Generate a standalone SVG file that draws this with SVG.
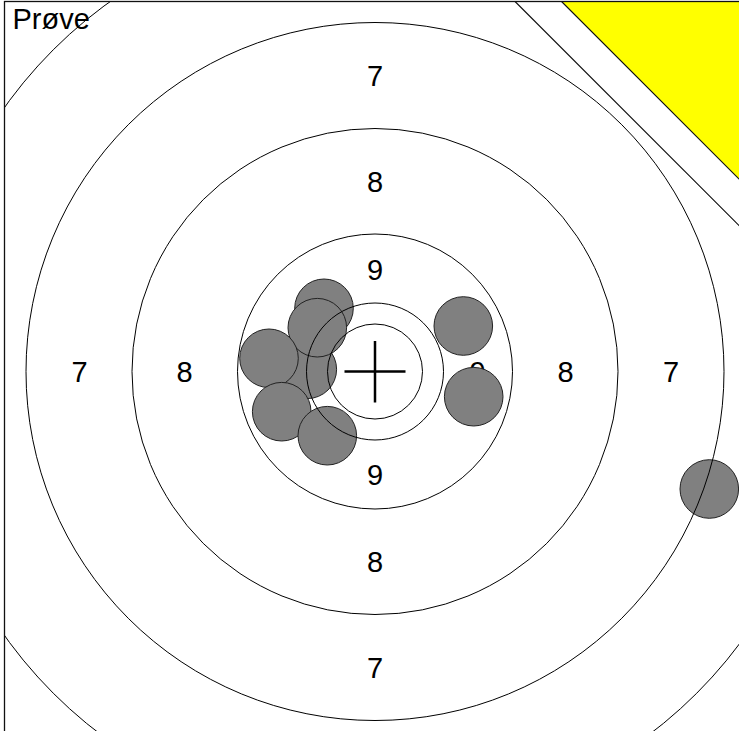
<svg xmlns="http://www.w3.org/2000/svg" width="739" height="731" viewBox="0 0 739 731">
<style>
.ring{fill:none;stroke:#000;stroke-width:1}
.hole{fill:#808080;stroke:#222;stroke-width:1}
.lbl{font-family:"Liberation Sans",Arial,sans-serif;font-size:29px;fill:#000;text-anchor:middle}
.diag{stroke:#111;stroke-width:1.2}
</style>
<defs>
<clipPath id="frameClip"><rect x="4.5" y="1.5" width="800" height="800"/></clipPath>
</defs>
<rect x="0" y="0" width="739" height="731" fill="#fff"/>
<g clip-path="url(#frameClip)">
<g id="labels">
<text class="lbl" x="12.5" y="28.5" style="text-anchor:start">Prøve</text>
<text class="lbl" x="375" y="86">7</text>
<text class="lbl" x="375" y="192">8</text>
<text class="lbl" x="375" y="280">9</text>
<text class="lbl" x="375" y="485">9</text>
<text class="lbl" x="375" y="572">8</text>
<text class="lbl" x="375" y="678">7</text>
<text class="lbl" x="79.5" y="382">7</text>
<text class="lbl" x="184.5" y="382">8</text>
<text class="lbl" x="477.5" y="382">9</text>
<text class="lbl" x="565.5" y="382">8</text>
<text class="lbl" x="671" y="382">7</text>
</g>
<g id="holes">
<circle class="hole" cx="307.3" cy="369.3" r="29.3"/>
<circle class="hole" cx="324" cy="308.3" r="29.3"/>
<circle class="hole" cx="317.3" cy="327.7" r="29.3"/>
<circle class="hole" cx="269" cy="358.3" r="29.3"/>
<circle class="hole" cx="281.7" cy="411.7" r="29.3"/>
<circle class="hole" cx="327.3" cy="435.7" r="29.3"/>
<circle class="hole" cx="463.3" cy="326" r="29.3"/>
<circle class="hole" cx="473.7" cy="396.7" r="29.3"/>
<circle class="hole" cx="709.3" cy="489" r="29.3"/>
</g>
<g id="rings">
<circle class="ring" cx="375" cy="371.5" r="455"/>
<circle class="ring" cx="375" cy="371.5" r="349"/>
<circle class="ring" cx="375" cy="371.5" r="243"/>
<circle class="ring" cx="375" cy="371.5" r="137.5"/>
<circle class="ring" cx="375" cy="371.5" r="68.5"/>
<circle class="ring" cx="375" cy="371.5" r="47.5"/>
</g>
<g id="crosshair" stroke="#000" stroke-width="2.5">
<line x1="344.5" y1="371.5" x2="405.5" y2="371.5"/>
<line x1="375" y1="341" x2="375" y2="402.5"/>
</g>
<g id="corner-zone">
<polygon class="diag" points="515,1.5 760,1.5 760,246.5" fill="#fff"/>
<polygon class="diag" points="561.5,1.5 760,1.5 760,200" fill="#ffff00"/>
</g>
</g>
<g id="frame">
<rect x="4.5" y="1.5" width="800" height="800" fill="none" stroke="#111" stroke-width="1.3"/>
</g>
</svg>
